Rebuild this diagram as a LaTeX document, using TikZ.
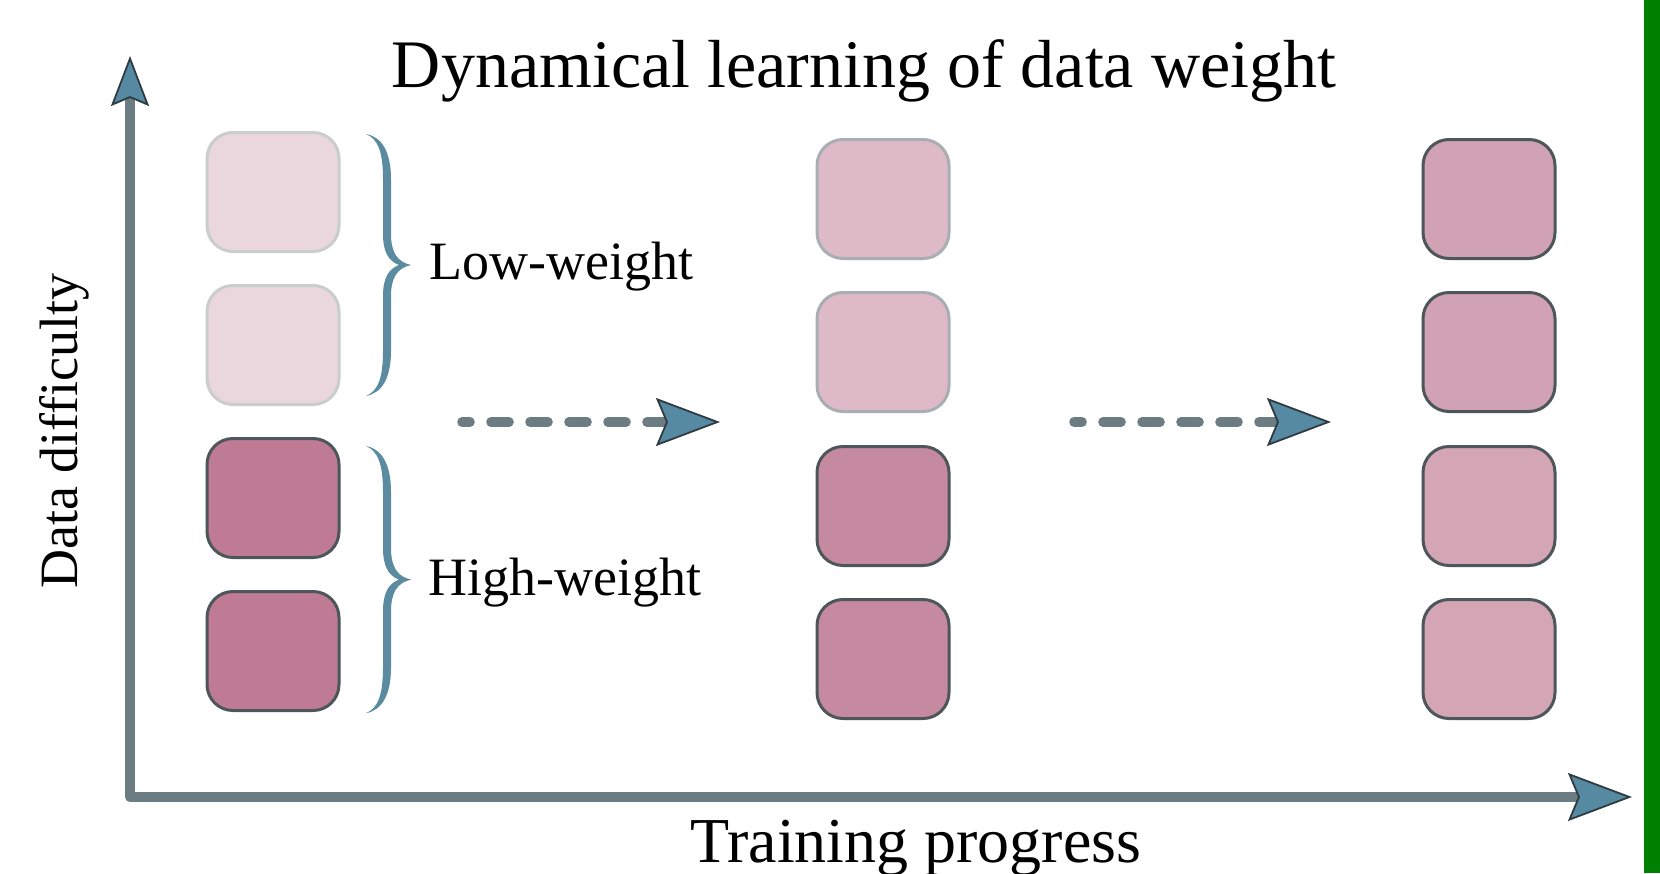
\documentclass[tikz,border=0pt]{standalone}
\usepackage{fontspec}
\setmainfont{Liberation Serif}
\usetikzlibrary{arrows.meta}

\definecolor{axisline}{HTML}{6B7C82}
\definecolor{tipfill}{HTML}{558AA2}
\definecolor{tipedge}{HTML}{2F3B40}
\definecolor{bracecol}{HTML}{5A8BA1}
\definecolor{edgedark}{HTML}{4D5659}
\definecolor{edgelight}{HTML}{C9CDCE}
\definecolor{edgemid}{HTML}{A9AEB0}
\definecolor{wfaint}{HTML}{EAD7DE}
\definecolor{wstrong}{HTML}{BE7B93}
\definecolor{wsoft}{HTML}{DEBAC7}
\definecolor{wfirm}{HTML}{C58A9F}
\definecolor{wevenA}{HTML}{D0A2B3}
\definecolor{wevenB}{HTML}{D3A5B5}
\definecolor{railgreen}{HTML}{008000}

\tikzset{
  bigtip/.tip={Stealth[length=32pt, width=24pt, inset=5pt, fill=tipfill,
                 color=tipedge, line width=0.9pt]},
  smalltip/.tip={Stealth[length=25pt, width=19pt, inset=4pt, fill=tipfill,
                 color=tipedge, line width=0.9pt]},
}

\begin{document}
\begin{tikzpicture}[x=0.5pt,y=-0.5pt,
  sample/.style={rounded corners=13pt, minimum width=66pt, minimum height=59.5pt,
                 line width=1.5pt, inner sep=0pt},
  axis/.style={draw=axisline, line width=5pt, line join=round},
  flowdash/.style={draw=axisline, line width=4.8pt, line cap=round,
                   dash pattern=on 9pt off 10.5pt, dash phase=5pt},
  label/.style={font=\fontsize{27pt}{32pt}\selectfont, inner sep=0pt},
  curly/.pic={
    \fill[bracecol] (0,0) .. controls (16,3) and (25,18) .. (25,45)
      -- (25,100) .. controls (25,118) and (31,128) .. (45,131)
      .. controls (31,134) and (25,144) .. (25,162)
      -- (25,217) .. controls (25,244) and (16,259) .. (0,262)
      .. controls (12,257) and (17,244) .. (17,217)
      -- (17,162) .. controls (17,145) and (22,135) .. (33,131)
      .. controls (22,127) and (17,117) .. (17,100)
      -- (17,45) .. controls (17,18) and (12,5) .. (0,0) -- cycle;
  }]

\useasboundingbox (0,0) rectangle (1660,873);
\fill[white] (0,0) rectangle (1660,873);
\fill[railgreen] (1644,0) rectangle (1660,873);

% axes
\coordinate (origin) at (130,797);
\coordinate (ytop) at (130,56);
\coordinate (xend) at (1632,797);
\draw[axis, smalltip-bigtip] (ytop) -- (origin) -- (xend);

% title and axis labels
\node[font=\fontsize{34pt}{40pt}\selectfont, inner sep=0pt, anchor=base] (title) at (864,87) {Dynamical learning of data weight};
\node[font=\fontsize{32pt}{38pt}\selectfont, inner sep=0pt, anchor=base] (xlabel) at (916,862) {Training progress};
\node[label, anchor=base, rotate=90] (ylabel) at (77,431) {Data difficulty};

% initial stage
\node[sample, fill=wfaint, draw=edgelight] (a1) at (273,192) {};
\node[sample, fill=wfaint, draw=edgelight] (a2) at (273,345) {};
\node[sample, fill=wstrong, draw=edgedark] (a3) at (273,498) {};
\node[sample, fill=wstrong, draw=edgedark] (a4) at (273,651) {};

\pic at (366,134) {curly};
\pic[yscale=1.02] at (366,446) {curly};
\node[label, anchor=base west] (low) at (429,279) {Low-weight};
\node[label, anchor=base west] (high) at (428,595) {High-weight};

% middle stage
\node[sample, fill=wsoft, draw=edgemid] (b1) at (883,199) {};
\node[sample, fill=wsoft, draw=edgemid] (b2) at (883,352) {};
\node[sample, fill=wfirm, draw=edgedark] (b3) at (883,506) {};
\node[sample, fill=wfirm, draw=edgedark] (b4) at (883,659) {};

% final stage
\node[sample, fill=wevenA, draw=edgedark] (c1) at (1489,199) {};
\node[sample, fill=wevenA, draw=edgedark] (c2) at (1489,352) {};
\node[sample, fill=wevenB, draw=edgedark] (c3) at (1489,506) {};
\node[sample, fill=wevenB, draw=edgedark] (c4) at (1489,659) {};

% progress arrows
\coordinate (p1s) at (462,422);
\coordinate (p1e) at (720,422);
\coordinate (p2s) at (1074,422);
\coordinate (p2e) at (1331,422);
\draw[flowdash, -bigtip] (p1s) -- (p1e);
\draw[flowdash, -bigtip] (p2s) -- (p2e);
\end{tikzpicture}
\end{document}
